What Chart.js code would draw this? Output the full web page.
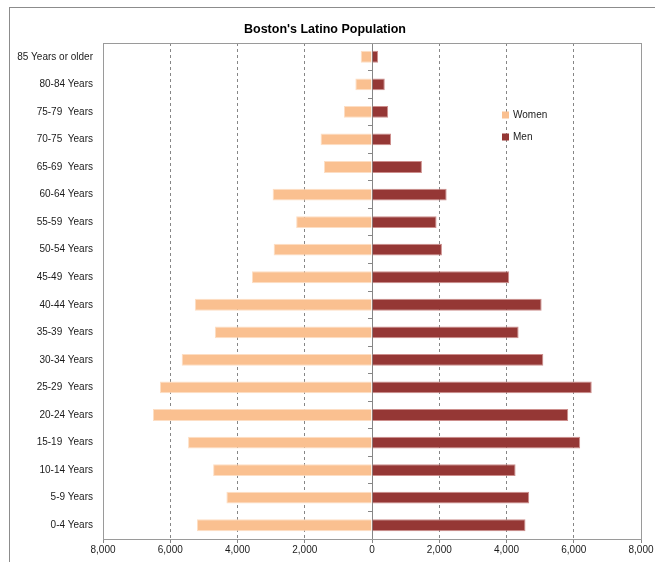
<!DOCTYPE html>
<html>
<head>
<meta charset="utf-8">
<title>Boston's Latino Population</title>
<script src="https://cdn.jsdelivr.net/npm/chart.js@4/dist/chart.umd.min.js"></script>
<style>
  html, body { margin: 0; padding: 0; background: #fff; overflow: hidden; }
  #wrap { position: relative; width: 670px; height: 562px; }
  #frame { position: absolute; left: 9px; top: 7px; width: 700px; height: 600px; border: 1px solid #8c8c8c; box-sizing: border-box; pointer-events: none; }
  canvas { position: absolute; left: 0; top: 0; }
</style>
</head>
<body>
<div id="wrap">
  <canvas id="pyramid" width="670" height="562"></canvas>
  <div id="frame"></div>
</div>
<script>
// Age groups, listed from the oldest (top row) to the youngest (bottom row)
const ageGroups = [
  "85 Years or older", "80-84 Years", "75-79  Years", "70-75  Years", "65-69  Years",
  "60-64 Years", "55-59  Years", "50-54 Years", "45-49  Years", "40-44 Years",
  "35-39  Years", "30-34 Years", "25-29  Years", "20-24 Years", "15-19  Years",
  "10-14 Years", "5-9 Years", "0-4 Years"
];

// Population counts per age group
const women = [335, 495, 835, 1530, 1430, 2955, 2255, 2925, 3570, 5270,
               4675, 5660, 6305, 6515, 5470, 4725, 4330, 5205];
const men   = [180, 380, 480, 565, 1485, 2220, 1920, 2080, 4080, 5045,
               4360, 5095, 6535, 5835, 6190, 4270, 4675, 4565];

// Horizontal axis: women to the left of zero, men to the right
const axisMin = -8000;
const axisMax = 8000;
const axisStep = 2000;

const FONT = "'Liberation Sans', Arial, sans-serif";
const GRAY = '#868686';

// Outline around the plotting area
const plotFrame = {
  id: 'plotFrame',
  beforeDatasetsDraw(chart) {
    const { ctx, chartArea: a } = chart;
    ctx.save();
    ctx.strokeStyle = '#9a9a9a';
    ctx.lineWidth = 1;
    ctx.strokeRect(Math.round(a.left) + 0.5, Math.round(a.top) + 0.5,
                   Math.round(a.right - a.left), Math.round(a.bottom - a.top));
    ctx.restore();
  }
};

// Series key drawn inside the plotting area
const insideLegend = {
  id: 'insideLegend',
  afterDraw(chart) {
    const { ctx, chartArea: a } = chart;
    const x = a.left + 399;
    let y = a.top + 72;
    ctx.save();
    ctx.font = '10px ' + FONT;
    ctx.textBaseline = 'middle';
    chart.data.datasets.forEach(ds => {
      ctx.fillStyle = ds.backgroundColor;
      ctx.fillRect(x, y - 3.5, 7, 7);
      ctx.fillStyle = '#1a1a1a';
      ctx.fillText(ds.label, x + 11, y);
      y += 22;
    });
    ctx.restore();
  }
};

new Chart(document.getElementById('pyramid'), {
  type: 'bar',
  data: {
    labels: ageGroups,
    datasets: [
      {
        label: 'Women',
        data: women.map(v => -v),
        backgroundColor: '#FAC090',
        borderColor: 'rgba(253,218,190,0.9)',
        borderWidth: 1,
        barPercentage: 0.43,
        categoryPercentage: 1
      },
      {
        label: 'Men',
        data: men,
        backgroundColor: '#953735',
        borderColor: 'rgba(200,130,128,0.9)',
        borderWidth: 1,
        barPercentage: 0.43,
        categoryPercentage: 1
      }
    ]
  },
  options: {
    indexAxis: 'y',
    responsive: false,
    animation: false,
    layout: { padding: { left: 9, right: 29, top: 0, bottom: 0 } },
    plugins: {
      legend: { display: false },
      tooltip: { enabled: false },
      title: {
        display: true,
        text: "Boston's Latino Population",
        color: '#000',
        font: { family: FONT, size: 12.5, weight: 'bold', lineHeight: 1.2 },
        padding: { top: 22, bottom: 6 }
      }
    },
    scales: {
      x: {
        stacked: true,
        min: axisMin,
        max: axisMax,
        afterFit(scale) { scale.height = 23; },
        ticks: {
          stepSize: axisStep,
          padding: 1,
          color: '#1a1a1a',
          font: { family: FONT, size: 10 },
          maxRotation: 0,
          callback: v => Math.abs(v).toLocaleString('en-US')
        },
        grid: {
          // the zero line is drawn solid by the yZero axis
          color: c => (c.tick && c.tick.value === 0) ? 'rgba(0,0,0,0)' : GRAY,
          lineWidth: 1,
          tickLength: 4,
          tickColor: GRAY
        },
        border: { display: true, color: GRAY, dash: [3, 3] }
      },
      y: {
        stacked: true,
        afterFit(scale) { scale.width = 94; },
        grid: { display: false, drawTicks: false },
        border: { display: false },
        ticks: {
          padding: 10,
          color: '#1a1a1a',
          font: { family: FONT, size: 10 },
          autoSkip: false
        }
      },
      // Zero line with short tick marks between the age rows
      yZero: {
        type: 'category',
        axis: 'y',
        position: { x: 0 },
        offset: true,
        ticks: { display: false, autoSkip: false },
        grid: { drawOnChartArea: false, drawTicks: true, tickLength: 4, offset: true, color: GRAY },
        border: { display: true, color: GRAY, width: 1 }
      }
    }
  },
  plugins: [plotFrame, insideLegend]
});
</script>
</body>
</html>
